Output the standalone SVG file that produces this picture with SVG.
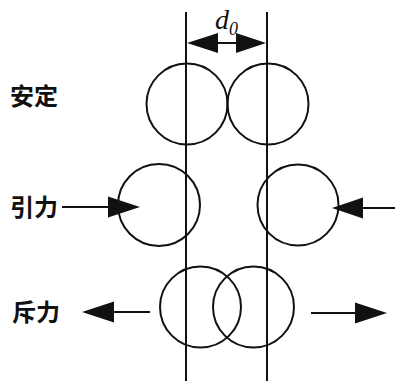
<svg xmlns="http://www.w3.org/2000/svg" width="395" height="381" viewBox="0 0 395 381">
<style>
.ln{stroke:#111;stroke-width:2;fill:none}
.c{stroke:#111;stroke-width:2;fill:none}
.lbl{font-family:"Noto Sans CJK SC","Noto Sans CJK JP",sans-serif;font-weight:bold;font-size:24px;fill:#111}
.ah{fill:#111}
</style>
<rect width="395" height="381" fill="#fff"/>
<g id="guides">
<line class="ln" x1="186" y1="12" x2="186" y2="381"/>
<line class="ln" x1="267" y1="12" x2="267" y2="381"/>
</g>
<g id="d0">
<line class="ln" x1="210" y1="43" x2="245" y2="43"/>
<polygon class="ah" points="187,43 218,33 218,53"/>
<polygon class="ah" points="266,43 236,33 236,53"/>
<text x="215" y="29" font-family="Liberation Serif,serif" font-style="italic" font-size="28" fill="#111">d<tspan font-size="18" dy="6">0</tspan></text>
</g>
<g id="stable">
<text class="lbl" x="10" y="105">安定</text>
<circle class="c" cx="187" cy="104" r="40.5"/>
<circle class="c" cx="268" cy="104" r="40.5"/>
</g>
<g id="attract">
<text class="lbl" x="10" y="216">引力</text>
<circle class="c" cx="159" cy="205" r="41"/>
<circle class="c" cx="298" cy="205" r="40.5"/>
</g>
<g id="repulse">
<text class="lbl" x="12" y="321">斥力</text>
<circle class="c" cx="200.5" cy="307" r="40.5"/>
<circle class="c" cx="253.5" cy="307" r="40.5"/>
</g>
<g id="connectors">
<line class="ln" x1="62" y1="207" x2="112" y2="207"/>
<polygon class="ah" points="140,207 108,196.5 108,217.5"/>
<line class="ln" x1="358" y1="208" x2="395" y2="208"/>
<polygon class="ah" points="332,208 363,197.5 363,218.5"/>
<line class="ln" x1="108" y1="312" x2="150" y2="312"/>
<polygon class="ah" points="82,312 114,301.5 114,322.5"/>
<line class="ln" x1="311" y1="313" x2="358" y2="313"/>
<polygon class="ah" points="387,313 355,302.5 355,323.5"/>
</g>
</svg>
